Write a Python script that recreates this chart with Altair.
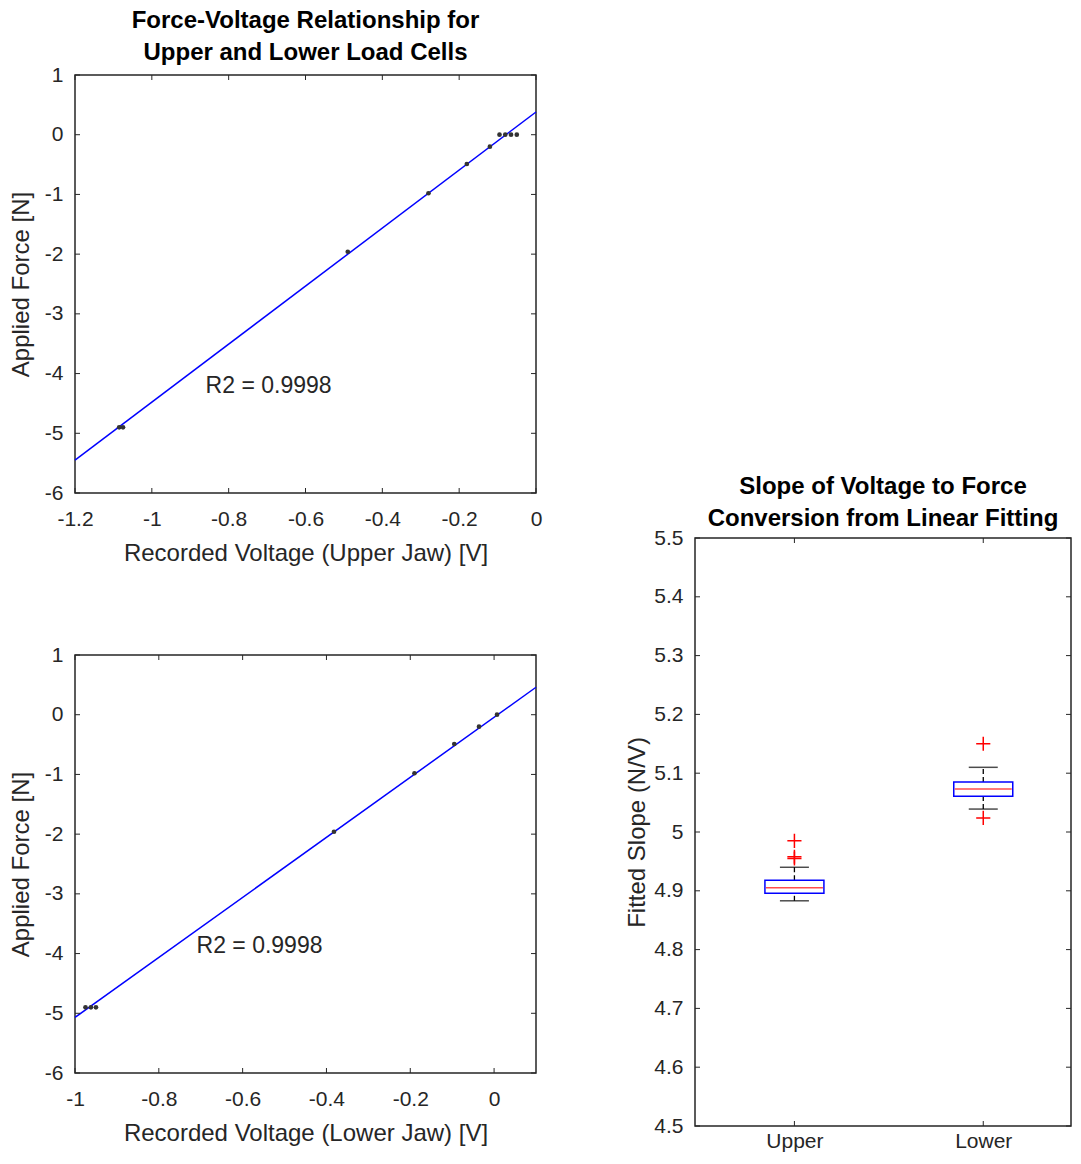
import altair as alt
import pandas as pd

# ---------------- data ----------------
volt_upper = [-1.085, -1.075, -0.49, -0.28, -0.18, -0.12, -0.095, -0.08, -0.065, -0.05]
force_upper = [-4.9, -4.9, -1.96, -0.98, -0.49, -0.2, 0.0, 0.0, 0.0, 0.0]
fit_upper_x = [-1.2, 0.0]
fit_upper_y = [-5.45, 0.38]
r2_upper_pos = [-0.86, -4.2]

volt_lower = [-0.975, -0.962, -0.95, -0.382, -0.19, -0.095, -0.036, 0.007]
force_lower = [-4.9, -4.9, -4.9, -1.96, -0.98, -0.49, -0.2, 0.0]
fit_lower_x = [-1.0, 0.1]
fit_lower_y = [-5.07, 0.46]
r2_lower_pos = [-0.71, -3.87]
r2_text = "R2 = 0.9998"

categories = ["Upper", "Lower"]
q1 = [4.896, 5.061]
median = [4.905, 5.073]
q3 = [4.918, 5.085]
whisk_lo = [4.883, 5.039]
whisk_hi = [4.940, 5.110]
outlier_cat = ["Upper", "Upper", "Upper", "Lower", "Lower"]
outlier_val = [4.955, 4.958, 4.985, 5.150, 5.024]

x_ticks_upper = [-1.2, -1.0, -0.8, -0.6, -0.4, -0.2, 0.0]
x_ticks_lower = [-1.0, -0.8, -0.6, -0.4, -0.2, 0.0]
y_ticks_force = [-6, -5, -4, -3, -2, -1, 0, 1]
y_ticks_slope = [4.5, 4.6, 4.7, 4.8, 4.9, 5.0, 5.1, 5.2, 5.3, 5.4, 5.5]

# ---------------- style ----------------
FONT = "Liberation Sans"
AX = "#262626"
TL = 5  # inward tick length
LABEL = "replace(format(datum.value, '~g'), '\u2212', '-')"

LW, LH = 461, 418
RW, RH = 376, 588
STEP = 194  # px per group in the box plot (MATLAB groups at 1, 2; xlim starts at 0.5)


def tick_layers(X, Y, xdf, ydf, w, h, xcalc=None):
    rules = []
    top = alt.Chart(xdf)
    bot = alt.Chart(xdf)
    if xcalc is not None:
        top = top.transform_calculate(**xcalc)
        bot = bot.transform_calculate(**xcalc)
    rules.append(top.mark_rule(color=AX, strokeWidth=1).encode(x=X, y=alt.value(0), y2=alt.value(TL)))
    rules.append(bot.mark_rule(color=AX, strokeWidth=1).encode(x=X, y=alt.value(h - TL), y2=alt.value(h)))
    rules.append(alt.Chart(ydf).mark_rule(color=AX, strokeWidth=1).encode(y=Y, x=alt.value(0), x2=alt.value(TL)))
    rules.append(alt.Chart(ydf).mark_rule(color=AX, strokeWidth=1).encode(y=Y, x=alt.value(w - TL), x2=alt.value(w)))
    return rules


def scatter_panel(volts, forces, fit_x, fit_y, r2_pos, x_domain, x_ticks, x_title, title=None):
    xs = alt.Scale(domain=x_domain, nice=False, zero=False)
    ys = alt.Scale(domain=[-6, 1], nice=False, zero=False)
    xax = alt.Axis(values=x_ticks, labelExpr=LABEL, ticks=False, domain=False, grid=False, labelFlush=False,
                   title=x_title, labelPadding=15, titlePadding=12)
    yax = alt.Axis(values=y_ticks_force, labelExpr=LABEL, ticks=False, domain=False, grid=False, labelFlush=False,
                   title="Applied Force [N]", labelPadding=12, titlePadding=11)
    X = alt.X("v:Q", scale=xs, axis=xax)
    Y = alt.Y("f:Q", scale=ys, axis=yax)
    pts = pd.DataFrame({"v": volts, "f": forces})
    fit = pd.DataFrame({"v": fit_x, "f": fit_y})
    txt = pd.DataFrame({"v": [r2_pos[0]], "f": [r2_pos[1]], "t": [r2_text]})
    layers = [
        alt.Chart(fit).mark_line(color="blue", strokeWidth=1.5).encode(x=X, y=Y),
        alt.Chart(pts).mark_circle(size=22, color="#333333", opacity=1).encode(x=X, y=Y),
        alt.Chart(txt).mark_text(align="left", baseline="middle", fontSize=23, color=AX, font=FONT)
        .encode(x=X, y=Y, text="t:N"),
    ]
    layers += tick_layers(X, Y, pd.DataFrame({"v": x_ticks}), pd.DataFrame({"f": y_ticks_force}), LW, LH)
    props = dict(width=LW, height=LH)
    if title is not None:
        props["title"] = title
    return alt.layer(*layers).properties(**props)


def make_title(line1, line2, offset):
    return alt.TitleParams(
        text=line1, subtitle=line2,
        fontSize=24, font=FONT, fontWeight="bold", color="black",
        subtitleFontSize=24, subtitleFont=FONT, subtitleFontWeight="bold", subtitleColor="black",
        subtitlePadding=8, anchor="middle", offset=offset,
    )


upper = scatter_panel(volt_upper, force_upper, fit_upper_x, fit_upper_y, r2_upper_pos,
                      [-1.2, 0.0], x_ticks_upper, "Recorded Voltage (Upper Jaw) [V]",
                      make_title("Force-Voltage Relationship for", "Upper and Lower Load Cells", -1))
lower = scatter_panel(volt_lower, force_lower, fit_lower_x, fit_lower_y, r2_lower_pos,
                      [-1.0, 0.1], x_ticks_lower, "Recorded Voltage (Lower Jaw) [V]")

left_col = alt.vconcat(upper, lower, spacing=162, bounds="flush")

# ---------------- box plot ----------------
box_df = pd.DataFrame({"cat": categories, "q1": q1, "med": median, "q3": q3, "lo": whisk_lo, "hi": whisk_hi})
out_df = pd.DataFrame({"cat": outlier_cat, "val": outlier_val})
cat_list = "['" + "','".join(categories) + "']"
POS = {"pos": "indexof(" + cat_list + ", datum.cat) + 1"}

bx = alt.X("pos:Q", scale=alt.Scale(domain=[0.5, 0.5 + RW / STEP], nice=False, zero=False),
           axis=alt.Axis(values=[1, 2], labelExpr=cat_list + "[datum.value - 1]", title=None, ticks=False,
                         domain=False, grid=False, labelFlush=False, labelPadding=4))
yscale = alt.Scale(domain=[4.5, 5.5], nice=False, zero=False)
yax_r = alt.Axis(values=y_ticks_slope, labelExpr=LABEL, ticks=False, domain=False, grid=False, labelFlush=False,
                 title="Fitted Slope (N/V)", labelPadding=12, titlePadding=4)


def BY(field):
    return alt.Y(field, type="quantitative", scale=yscale, axis=yax_r)


bb = alt.Chart(box_df).transform_calculate(**POS)
box_layers = [
    bb.mark_rule(color="black", strokeWidth=1.3, strokeDash=[5, 3]).encode(x=bx, y=BY("lo"), y2="q1:Q"),
    bb.mark_rule(color="black", strokeWidth=1.3, strokeDash=[5, 3]).encode(x=bx, y=BY("q3"), y2="hi:Q"),
    bb.mark_tick(color="black", size=29, thickness=1.5, orient="horizontal").encode(x=bx, y=BY("lo")),
    bb.mark_tick(color="black", size=29, thickness=1.5, orient="horizontal").encode(x=bx, y=BY("hi")),
    bb.mark_bar(size=59, fill="white", stroke="blue", strokeWidth=1.5).encode(x=bx, y=BY("q1"), y2="q3:Q"),
    bb.mark_tick(color="red", size=57, thickness=1.5, orient="horizontal").encode(x=bx, y=BY("med")),
    alt.Chart(out_df).transform_calculate(**POS).mark_point(
        shape="M-1,0L1,0M0,-1L0,1", size=200, color="red", strokeWidth=1.5, filled=False, opacity=1
    ).encode(x=bx, y=BY("val")),
]
box_layers += tick_layers(bx, BY("val"), pd.DataFrame({"cat": categories}), pd.DataFrame({"val": y_ticks_slope}),
                          RW, RH, xcalc=POS)

right = alt.layer(*box_layers).properties(
    width=RW, height=RH,
    title=make_title("Slope of Voltage to Force", "Conversion from Linear Fitting", -4),
)

spacer = alt.Chart(pd.DataFrame({"s": [0]})).mark_point(opacity=0).encode(
    x=alt.X("s:Q", axis=None), y=alt.Y("s:Q", axis=None)
).properties(width=RW, height=443, view=alt.ViewBackground(stroke="transparent"))

right_col = alt.vconcat(spacer, right, spacing=20, bounds="flush")

chart = alt.hconcat(left_col, right_col, spacing=620, bounds="flush").properties(padding=0).configure(
    font=FONT
).configure_view(stroke=AX, strokeWidth=1.5).configure_axis(
    labelFont=FONT, titleFont=FONT, labelFontSize=21, titleFontSize=24, labelColor=AX, titleColor=AX,
    titleFontWeight="normal", grid=False
)

chart.save("out.html", embed_options={"renderer": "svg", "actions": False})
